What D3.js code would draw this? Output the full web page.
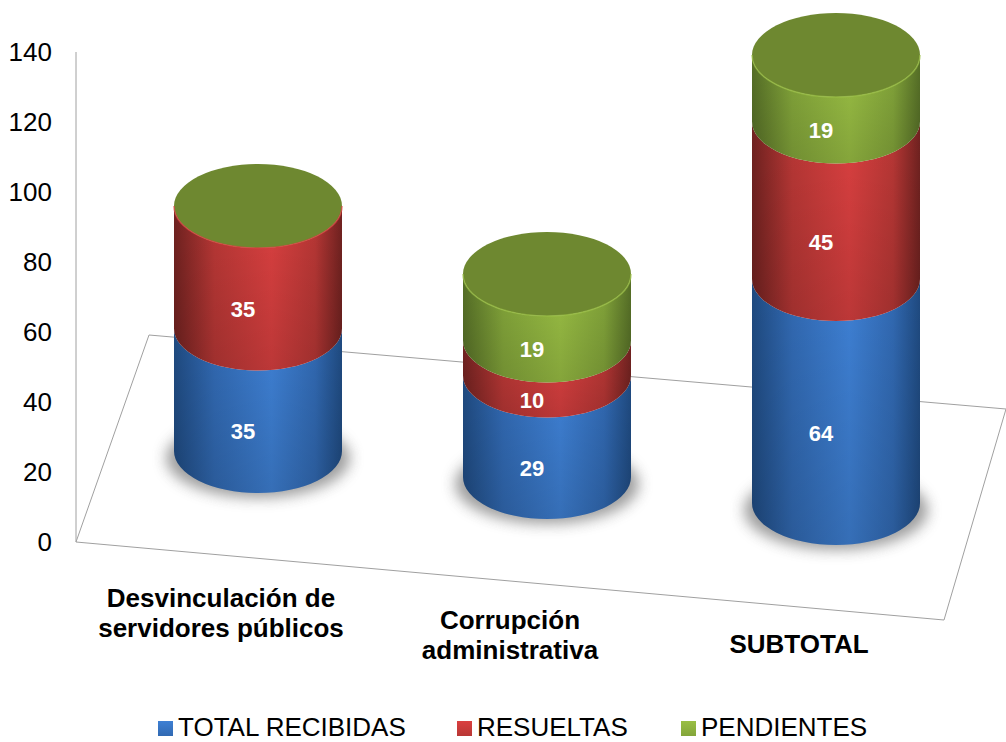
<!DOCTYPE html>
<html>
<head>
<meta charset="utf-8">
<script src="https://cdn.jsdelivr.net/npm/d3@7"></script>
<style>
  body { margin: 0; background: #fff; }
  text { font-family: "Liberation Sans", Arial, sans-serif; }
</style>
</head>
<body>
<div id="chart"></div>
<script>
var categories = ['Desvinculación de servidores públicos', 'Corrupción administrativa', 'SUBTOTAL'];
var seriesNames = ['TOTAL RECIBIDAS', 'RESUELTAS', 'PENDIENTES'];
var recibidas = [35, 29, 64];
var resueltas = [35, 10, 45];
var pendientes = [0, 19, 19];
var yTicks = [0, 20, 40, 60, 80, 100, 120, 140];
var categoryLines = [['Desvinculación de', 'servidores públicos'], ['Corrupción', 'administrativa'], ['SUBTOTAL']];

var width = 1006, height = 742;
var rx = 84, ry = 42;

var svg = d3.select('#chart').append('svg')
  .attr('width', width)
  .attr('height', height)
  .style('display', 'block');

var yScale = d3.scaleLinear().domain([0, 140]).range([542, 52]);
var xScale = d3.scalePoint().domain(categories).range([258, 836]);

// the floor is drawn in perspective, bars sit further down going right
function baseShift(cat) {
  return -91 + (xScale(cat) - 258) * 0.09;
}

var palette = [
  { main: '#3e80d4', mid: '#3169b2', dark: '#1f4a80', name: 'blue' },
  { main: '#da4040', mid: '#b83735', dark: '#702220', name: 'red' },
  { main: '#9abf44', mid: '#83a53a', dark: '#566f27', name: 'green' }
];
var capColor = '#6e8830';

var defs = svg.append('defs');
palette.forEach(function(p) {
  var g = defs.append('linearGradient').attr('id', 'side-' + p.name);
  g.append('stop').attr('offset', '0%').attr('stop-color', p.dark);
  g.append('stop').attr('offset', '24%').attr('stop-color', p.mid);
  g.append('stop').attr('offset', '58%').attr('stop-color', p.main);
  g.append('stop').attr('offset', '84%').attr('stop-color', p.mid);
  g.append('stop').attr('offset', '100%').attr('stop-color', p.dark);

  var k = defs.append('linearGradient').attr('id', 'key-' + p.name)
    .attr('x1', 0).attr('x2', 0).attr('y1', 0).attr('y2', 1);
  k.append('stop').attr('offset', '0%').attr('stop-color', p.main);
  k.append('stop').attr('offset', '100%').attr('stop-color', p.mid);
});
var fade = defs.append('linearGradient').attr('id', 'fade')
  .attr('x1', 0).attr('x2', 0).attr('y1', 0).attr('y2', 1);
fade.append('stop').attr('offset', '0%').attr('stop-color', '#000').attr('stop-opacity', 0);
fade.append('stop').attr('offset', '100%').attr('stop-color', '#000').attr('stop-opacity', 0.14);
defs.append('filter').attr('id', 'blur')
  .attr('x', '-30%').attr('y', '-30%').attr('width', '160%').attr('height', '160%')
  .append('feGaussianBlur').attr('stdDeviation', 7);

// floor and wall lines
var lineColor = '#a0a0a0';
var wallX = 76;
svg.append('path')
  .attr('d', 'M' + wallX + ',' + yScale(140) + 'V' + yScale(0) + 'L149,335L1006,409')
  .attr('fill', 'none').attr('stroke', lineColor).attr('stroke-width', 1);
svg.append('path')
  .attr('d', 'M' + wallX + ',' + yScale(0) + 'L944,620L1006,409')
  .attr('fill', 'none').attr('stroke', lineColor).attr('stroke-width', 1);

// value axis
var yAxis = svg.append('g')
  .attr('transform', 'translate(' + wallX + ',0)')
  .call(d3.axisLeft(yScale).tickValues(yTicks).tickSize(0).tickPadding(24));
yAxis.select('.domain').remove();
yAxis.selectAll('text')
  .style('font-family', '"Liberation Sans", Arial, sans-serif')
  .style('font-size', '26px')
  .attr('fill', '#000');

function sidePath(cx, yTop, yBot) {
  return 'M' + (cx - rx) + ',' + yTop +
    'V' + yBot +
    'A' + rx + ',' + ry + ' 0 0 0 ' + (cx + rx) + ',' + yBot +
    'V' + yTop +
    'A' + rx + ',' + ry + ' 0 0 1 ' + (cx - rx) + ',' + yTop + 'Z';
}

var stackRows = categories.map(function(c, i) {
  return { cat: c, recibidas: recibidas[i], resueltas: resueltas[i], pendientes: pendientes[i] };
});
var stacked = d3.stack().keys(['recibidas', 'resueltas', 'pendientes'])(stackRows);

// bars
categories.forEach(function(cat, i) {
  var cx = xScale(cat);
  var shift = baseShift(cat);
  var g = svg.append('g').attr('class', 'cylinder');

  g.append('ellipse')
    .attr('cx', cx).attr('cy', yScale(0) + shift + 7)
    .attr('rx', rx + 8).attr('ry', ry - 2)
    .attr('fill', '#6a6a6a').attr('opacity', 0.65)
    .attr('filter', 'url(#blur)');

  var topSeries = 0;
  stacked.forEach(function(s, j) {
    var d = s[i];
    if (d[1] - d[0] <= 0) return;
    topSeries = j;
    var yBot = yScale(d[0]) + shift;
    var yTop = yScale(d[1]) + shift;
    g.append('path').attr('d', sidePath(cx, yTop, yBot))
      .attr('fill', 'url(#side-' + palette[j].name + ')');
    g.append('path').attr('d', sidePath(cx, yTop, yBot))
      .attr('fill', 'url(#fade)');
  });

  var total = stacked[2][i][1];
  var yCap = yScale(total) + shift;
  g.append('ellipse')
    .attr('cx', cx).attr('cy', yCap)
    .attr('rx', rx).attr('ry', ry)
    .attr('fill', capColor);
  // light rim along the front of the cap
  g.append('path')
    .attr('d', 'M' + (cx - rx) + ',' + yCap + 'A' + rx + ',' + ry + ' 0 0 0 ' + (cx + rx) + ',' + yCap)
    .attr('fill', 'none')
    .attr('stroke', palette[topSeries].main)
    .attr('stroke-width', 1.5)
    .attr('opacity', 0.7);

  stacked.forEach(function(s, j) {
    var d = s[i];
    var v = d[1] - d[0];
    if (v <= 0) return;
    g.append('text')
      .attr('x', cx - 15)
      .attr('y', yScale((d[0] + d[1]) / 2) + shift + ry)
      .attr('dy', '0.35em')
      .attr('text-anchor', 'middle')
      .attr('fill', '#fff')
      .attr('font-size', '22px')
      .attr('font-weight', 'bold')
      .text(v);
  });
});

// category labels
var labelY = [598, 620, 644];
categories.forEach(function(cat, i) {
  var t = svg.append('text')
    .attr('text-anchor', 'middle')
    .attr('font-size', '26px')
    .attr('font-weight', 'bold')
    .attr('fill', '#000');
  categoryLines[i].forEach(function(line, k) {
    t.append('tspan')
      .attr('x', xScale(cat) - 37)
      .attr('y', labelY[i] + k * 30)
      .attr('dy', '0.35em')
      .text(line);
  });
});

// legend
var legendX = [158, 457, 681];
seriesNames.forEach(function(name, i) {
  svg.append('rect')
    .attr('x', legendX[i]).attr('y', 721)
    .attr('width', 15).attr('height', 15)
    .attr('fill', 'url(#key-' + palette[i].name + ')');
  svg.append('text')
    .attr('x', legendX[i] + 20).attr('y', 736)
    .attr('font-size', '26px')
    .attr('fill', '#000')
    .text(name);
});
</script>
</body>
</html>
